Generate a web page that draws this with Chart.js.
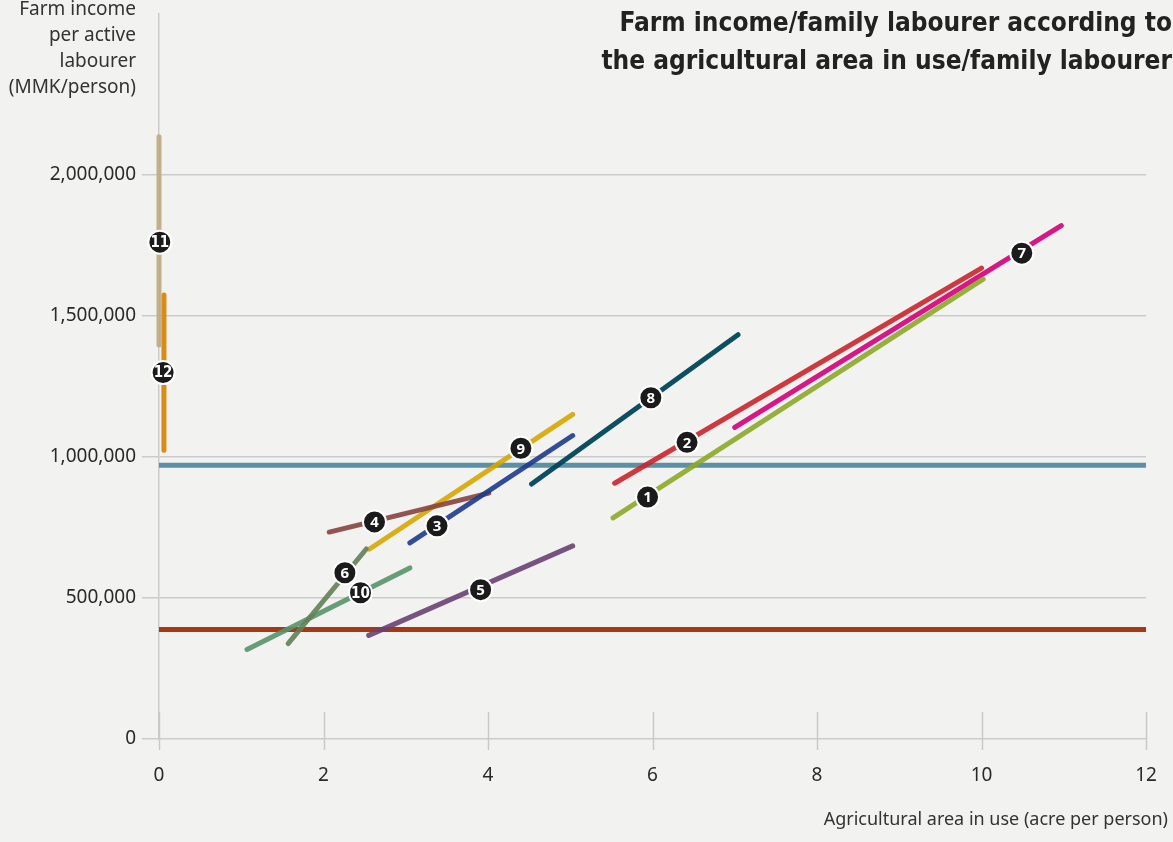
<!DOCTYPE html>
<html>
<head>
<meta charset="utf-8">
<script src="https://cdn.jsdelivr.net/npm/chart.js@4/dist/chart.umd.min.js"></script>
<style>
  html, body { margin: 0; padding: 0; background: #f2f2f0; }
  #wrap { position: relative; width: 1173px; height: 842px; overflow: hidden; }
  canvas { position: absolute; left: 0; top: 0; }
  .title {
    position: absolute; right: 1px; top: 3px;
    font-family: "Liberation Sans Narrow", "DejaVu Sans Condensed", "Noto Sans", sans-serif;
    font-weight: bold; font-size: 26px; line-height: 38px; color: #222;
    text-align: right; white-space: nowrap;
  }
  .ytitle {
    position: absolute; right: 1037px; top: -5px;
    font-family: "Noto Sans", "Open Sans", sans-serif;
    font-size: 19px; line-height: 26px; color: #333; text-align: right; white-space: nowrap;
  }
  .xtitle {
    position: absolute; right: 5px; top: 806px;
    font-family: "Noto Sans", "Open Sans", sans-serif;
    font-size: 18px; color: #333; white-space: nowrap;
  }
</style>
</head>
<body>
<div id="wrap">
  <canvas id="farm-chart" width="1173" height="842"></canvas>
  <div class="title">Farm income/family labourer according to<br>the agricultural area in use/family labourer</div>
  <div class="ytitle">Farm income<br>per active<br>labourer<br>(MMK/person)</div>
  <div class="xtitle">Agricultural area in use (acre per person)</div>
</div>
<script>
// tick values
const xTicks = [0, 2, 4, 6, 8, 10, 12];
const yTicks = [0, 500000, 1000000, 1500000, 2000000];

// numbered series: each one is a segment from start to end
const seriesIds = ['1', '2', '3', '4', '5', '6', '7', '8', '9', '10', '11', '12'];
const startX = [5.52, 5.54, 3.05, 2.07, 2.55, 1.57, 7.0, 4.53, 2.56, 1.07, 0.0, 0.06];
const startY = [783000, 906000, 695000, 733000, 367000, 338000, 1104000, 903000, 673000, 317000, 2133000, 1573000];
const endX = [10.02, 10.0, 5.03, 4.01, 5.03, 2.52, 10.97, 7.04, 5.03, 3.05, 0.0, 0.06];
const endY = [1629000, 1668000, 1075000, 871000, 684000, 673000, 1819000, 1432000, 1150000, 606000, 1396000, 1023000];

// where the number badge sits on each segment
const labelX = [5.94, 6.42, 3.38, 2.62, 3.91, 2.26, 10.49, 5.98, 4.40, 2.45, 0.01, 0.05];
const labelY = [857000, 1051000, 755000, 769000, 529000, 589000, 1721000, 1209000, 1030000, 518000, 1760000, 1298000];

// horizontal reference levels
const refLevels = [970000, 388000];

const seriesColors = [
  'rgba(140,168,40,0.9)', 'rgba(204,36,44,0.9)', 'rgba(30,58,140,0.9)', 'rgba(135,66,62,0.9)',
  'rgba(105,66,115,0.9)', 'rgba(100,128,88,0.9)', 'rgba(214,10,126,0.95)', 'rgba(0,70,88,0.95)',
  'rgba(214,166,0,0.9)', 'rgba(88,148,104,0.9)', 'rgba(190,170,130,0.9)', 'rgba(216,134,10,0.95)'
];
const refColors = ['rgba(82,138,162,0.95)', 'rgba(158,46,10,0.95)'];

const datasets = [];

// badges on top
datasets.push({
  type: 'scatter',
  label: 'badges',
  data: labelX.map((x, i) => ({ x: x, y: labelY[i] })),
  pointRadius: 11.5,
  pointHoverRadius: 11.5,
  pointBackgroundColor: '#1b1b1b',
  pointBorderColor: '#ffffff',
  pointBorderWidth: 2,
  clip: false,
  order: 0
});

seriesIds.forEach((id, i) => {
  datasets.push({
    type: 'line',
    label: id,
    data: [{ x: startX[i], y: startY[i] }, { x: endX[i], y: endY[i] }],
    borderColor: seriesColors[i],
    borderWidth: 5,
    borderCapStyle: 'round',
    pointRadius: 0,
    tension: 0,
    clip: false,
    order: 1
  });
});

refLevels.forEach((v, i) => {
  datasets.push({
    type: 'line',
    label: 'ref' + i,
    data: [{ x: 0, y: v }, { x: 12, y: v }],
    borderColor: refColors[i],
    borderWidth: 5,
    pointRadius: 0,
    order: 2
  });
});

const tickFont = { family: '"Noto Sans", "Open Sans", sans-serif', size: 19 };

// short vertical ticks on x axis reaching into the plot, and badge numbers
const extrasPlugin = {
  id: 'extras',
  beforeDatasetsDraw(chart) {
    const ctx = chart.ctx;
    const xs = chart.scales.x;
    const bottom = chart.chartArea.bottom;
    ctx.save();
    ctx.strokeStyle = '#c9c9cc';
    ctx.lineWidth = 1.5;
    xTicks.forEach((t) => {
      const px = Math.round(xs.getPixelForValue(t)) + 0.5;
      ctx.beginPath();
      ctx.moveTo(px, bottom - 27);
      ctx.lineTo(px, bottom + 11);
      ctx.stroke();
    });
    ctx.restore();
  },
  afterDatasetsDraw(chart) {
    const ctx = chart.ctx;
    const meta = chart.getDatasetMeta(0);
    ctx.save();
    ctx.fillStyle = '#ffffff';
    ctx.textAlign = 'center';
    ctx.textBaseline = 'middle';
    meta.data.forEach((pt, i) => {
      const txt = seriesIds[i];
      if (txt.length > 1) {
        ctx.font = 'bold 15px "Liberation Sans Narrow", "DejaVu Sans Condensed", sans-serif';
      } else {
        ctx.font = 'bold 15px "Noto Sans", "Open Sans", sans-serif';
      }
      ctx.fillText(txt, pt.x, pt.y + 1);
    });
    ctx.restore();
  }
};

new Chart(document.getElementById('farm-chart'), {
  data: { datasets: datasets },
  options: {
    responsive: false,
    animation: false,
    events: [],
    layout: { padding: { top: 10, right: 27, left: 0, bottom: 0 } },
    plugins: { legend: { display: false }, tooltip: { enabled: false } },
    scales: {
      x: {
        type: 'linear',
        min: 0,
        max: 12,
        afterBuildTicks: (scale) => { scale.ticks = xTicks.map((v) => ({ value: v })); },
        afterFit: (scale) => {
          scale.height = 103;
          scale.paddingLeft = 0;
          scale.paddingRight = 0;
        },
        grid: { drawOnChartArea: false, drawTicks: false },
        border: { display: false },
        ticks: { color: '#2a2a2a', font: tickFont, padding: 25, maxRotation: 0 }
      },
      y: {
        type: 'linear',
        min: 0,
        max: 2570000,
        afterBuildTicks: (scale) => { scale.ticks = yTicks.map((v) => ({ value: v })); },
        afterFit: (scale) => {
          scale.width = 159;
          scale.paddingTop = 0;
          scale.paddingBottom = 0;
        },
        grid: { color: '#cbcbce', lineWidth: 1.5, tickLength: 17, tickColor: '#cbcbce' },
        border: { display: true, color: '#cbcbce', width: 1.5 },
        ticks: {
          color: '#2a2a2a', font: tickFont, padding: 6,
          callback: (v) => v.toLocaleString('en-US')
        }
      }
    }
  },
  plugins: [extrasPlugin]
});
</script>
</body>
</html>
